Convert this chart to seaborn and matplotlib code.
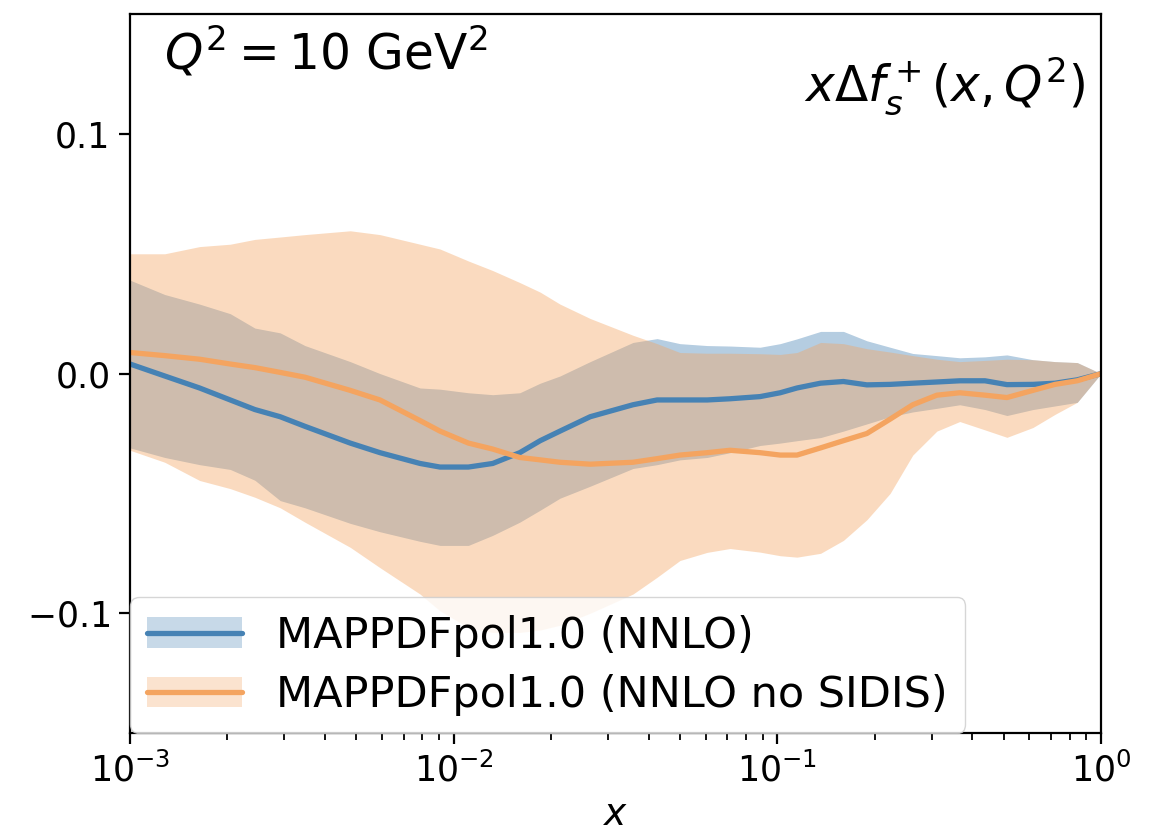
import numpy as np
import pandas as pd
import matplotlib
matplotlib.use("Agg")
import matplotlib.pyplot as plt
from matplotlib.patches import Patch
from matplotlib.lines import Line2D
import seaborn as sns

# Momentum fraction grid
x = [0.001, 0.00128, 0.00164, 0.00204, 0.00243, 0.00291, 0.00347, 0.00479,
     0.00592, 0.00787, 0.00907, 0.0111, 0.0132, 0.0160, 0.0185, 0.0213,
     0.0264, 0.0358, 0.0425, 0.0500, 0.0607, 0.0714, 0.0884, 0.102, 0.115,
     0.136, 0.160, 0.189, 0.223, 0.262, 0.311, 0.366, 0.438, 0.512, 0.616,
     0.721, 0.844, 1.0]

# MAPPDFpol1.0 (NNLO): central value and uncertainty band
nnlo_central = [0.004, -0.001, -0.006, -0.011, -0.015, -0.018, -0.022, -0.029,
                -0.033, -0.0375, -0.039, -0.039, -0.0375, -0.033, -0.028, -0.024,
                -0.018, -0.013, -0.011, -0.011, -0.011, -0.0105, -0.0096, -0.008,
                -0.006, -0.004, -0.0033, -0.0047, -0.0045, -0.004, -0.0035, -0.003,
                -0.003, -0.0046, -0.0045, -0.004, -0.0026, 0.0]
nnlo_upper = [0.039, 0.033, 0.029, 0.025, 0.019, 0.017, 0.0117, 0.005,
              0.0, -0.006, -0.0065, -0.008, -0.0088, -0.008, -0.004, -0.001,
              0.005, 0.013, 0.0146, 0.0125, 0.0117, 0.0115, 0.011, 0.0125,
              0.0145, 0.0176, 0.0176, 0.0137, 0.011, 0.0084, 0.0075, 0.0066,
              0.007, 0.0078, 0.0058, 0.005, 0.0046, 0.0]
nnlo_lower = [-0.031, -0.035, -0.038, -0.040, -0.0445, -0.053, -0.056, -0.0625,
              -0.066, -0.070, -0.0717, -0.0717, -0.0675, -0.062, -0.057, -0.052,
              -0.047, -0.0396, -0.038, -0.036, -0.035, -0.033, -0.030, -0.029,
              -0.028, -0.0267, -0.024, -0.021, -0.018, -0.016, -0.0145, -0.013,
              -0.015, -0.0175, -0.015, -0.0135, -0.012, 0.0]

# MAPPDFpol1.0 (NNLO no SIDIS): central value and uncertainty band
nosidis_central = [0.0088, 0.0075, 0.006, 0.004, 0.0025, 0.0005, -0.0015, -0.007,
                   -0.011, -0.0196, -0.024, -0.029, -0.0315, -0.035, -0.036, -0.037,
                   -0.0378, -0.037, -0.0355, -0.034, -0.033, -0.032, -0.033, -0.034,
                   -0.034, -0.031, -0.028, -0.025, -0.019, -0.013, -0.009, -0.008,
                   -0.009, -0.010, -0.007, -0.0045, -0.003, 0.0]
nosidis_upper = [0.050, 0.050, 0.053, 0.054, 0.056, 0.057, 0.058, 0.0596,
                 0.058, 0.054, 0.052, 0.047, 0.043, 0.038, 0.034, 0.029,
                 0.023, 0.016, 0.0125, 0.0088, 0.0085, 0.0085, 0.0083, 0.008,
                 0.0088, 0.013, 0.0125, 0.0104, 0.009, 0.0075, 0.006, 0.005,
                 0.0055, 0.006, 0.0058, 0.005, 0.0046, 0.0]
nosidis_lower = [-0.032, -0.037, -0.0446, -0.048, -0.0516, -0.056, -0.062, -0.0725,
                 -0.081, -0.092, -0.099, -0.106, -0.108, -0.108, -0.107, -0.105,
                 -0.100, -0.092, -0.085, -0.078, -0.0746, -0.073, -0.0745, -0.076,
                 -0.0766, -0.075, -0.0696, -0.061, -0.050, -0.034, -0.024, -0.020,
                 -0.0235, -0.0266, -0.0225, -0.017, -0.012, 0.0]

labels = ["MAPPDFpol1.0 (NNLO)", "MAPPDFpol1.0 (NNLO no SIDIS)"]
colors = ["#4682b4", "#f4a460"]

sns.set_style("ticks", {
    "axes.edgecolor": "black", "axes.labelcolor": "black", "text.color": "black",
    "xtick.color": "black", "ytick.color": "black",
})
plt.rcParams["font.family"] = ["DejaVu Sans"]
plt.rcParams["mathtext.fontset"] = "dejavusans"

fig = plt.figure(figsize=(11.59, 8.33), dpi=100)
ax = fig.add_axes([0.1122, 0.12, 0.8378, 0.863])

df = pd.DataFrame({
    "x": x * 2,
    "value": nnlo_central + nosidis_central,
    "set": [labels[0]] * len(x) + [labels[1]] * len(x),
})

# Uncertainty bands first, NNLO below the no-SIDIS band
ax.fill_between(x, nnlo_lower, nnlo_upper, color=colors[0], alpha=0.4, lw=0)
ax.fill_between(x, nosidis_lower, nosidis_upper, color=colors[1], alpha=0.4, lw=0)

sns.lineplot(data=df, x="x", y="value", hue="set", palette=colors,
             hue_order=labels, linewidth=3.8, ax=ax, legend=False)

ax.set_xscale("log")
ax.set_xlim(1e-3, 1.0)
ax.set_ylim(-0.15, 0.15)
ax.set_yticks([-0.1, 0.0, 0.1])
ax.set_yticklabels(["$-0.1$", "0.0", "0.1"])
ax.set_xlabel("$x$", fontsize=27, labelpad=6)
ax.set_ylabel("")

ax.tick_params(axis="both", which="major", labelsize=25, length=8, width=1.6,
               direction="out", pad=6, colors="black")
ax.tick_params(axis="x", which="minor", length=5, width=1.3, direction="out",
               colors="black")
for sp in ax.spines.values():
    sp.set_visible(True)
    sp.set_linewidth(1.6)
    sp.set_color("black")

ax.text(0.035, 0.985, r"$Q^2 = 10$ GeV$^2$", transform=ax.transAxes,
        fontsize=35, ha="left", va="top", color="black")
ax.text(0.984, 0.9, r"$x\Delta f_s^+(x, Q^2)$", transform=ax.transAxes,
        fontsize=35, ha="right", va="center", color="black")

handles = [
    (Patch(facecolor=colors[0], alpha=0.3, lw=0), Line2D([], [], color=colors[0], lw=3.8)),
    (Patch(facecolor=colors[1], alpha=0.3, lw=0), Line2D([], [], color=colors[1], lw=3.8)),
]
leg = ax.legend(handles, labels, loc="lower left", fontsize=31, borderaxespad=0.0,
                handlelength=2.2, handletextpad=0.8, framealpha=0.8, edgecolor="0.8",
                fancybox=True, labelspacing=0.4)
for t in leg.get_texts():
    t.set_color("black")

fig.savefig("out.png", dpi=100)
